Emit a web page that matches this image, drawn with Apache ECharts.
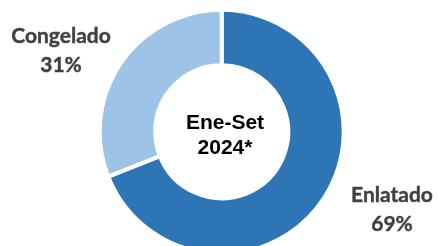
<!DOCTYPE html>
<html>
<head>
<meta charset="utf-8">
<script src="https://cdn.jsdelivr.net/npm/echarts@6/dist/echarts.min.js"></script>
<style>
  html, body { margin: 0; padding: 0; background: #fff; }
  #chart-box { width: 438px; height: 246px; }
</style>
</head>
<body>
<div id="chart-box"></div>
<script>
// datos del grafico
var categorias = ['Enlatado', 'Congelado'];
var valores = [69, 31];
var colores = ['#2E75B6', '#9DC3E6'];
var titulo = ['Ene-Set', '2024*'];

var chart = echarts.init(document.getElementById('chart-box'));

var pieData = [];
for (var i = 0; i < categorias.length; i++) {
  pieData.push({ value: valores[i], name: categorias[i], itemStyle: { color: colores[i] } });
}

// posiciones de las etiquetas (a mano)
var labelPos = [[392, 210], [61, 51]];
var labels = [];
for (var j = 0; j < categorias.length; j++) {
  labels.push({
    type: 'text',
    x: labelPos[j][0],
    y: labelPos[j][1],
    style: {
      text: categorias[j] + '\n' + valores[j] + '%',
      fill: '#404040',
      font: 'bold 21px Lato',
      lineHeight: 29,
      stroke: '#404040',
      lineWidth: 0.4,
      textAlign: 'center',
      textVerticalAlign: 'middle'
    }
  });
}
labels.push({
  type: 'text',
  x: 225,
  y: 136,
  style: {
    text: titulo.join('\n'),
    fill: '#000',
    font: 'bold 21px "Liberation Sans"',
    lineHeight: 25,
    textAlign: 'center',
    textVerticalAlign: 'middle'
  }
});

var option = {
  animation: false,
  series: [
    {
      type: 'pie',
      center: [221.7, 131.7],
      radius: [66.5, 122],
      startAngle: 90,
      clockwise: true,
      label: { show: false },
      labelLine: { show: false },
      itemStyle: { borderColor: '#fff', borderWidth: 4 },
      data: pieData
    }
  ],
  graphic: labels
};
chart.setOption(option);
</script>
</body>
</html>
